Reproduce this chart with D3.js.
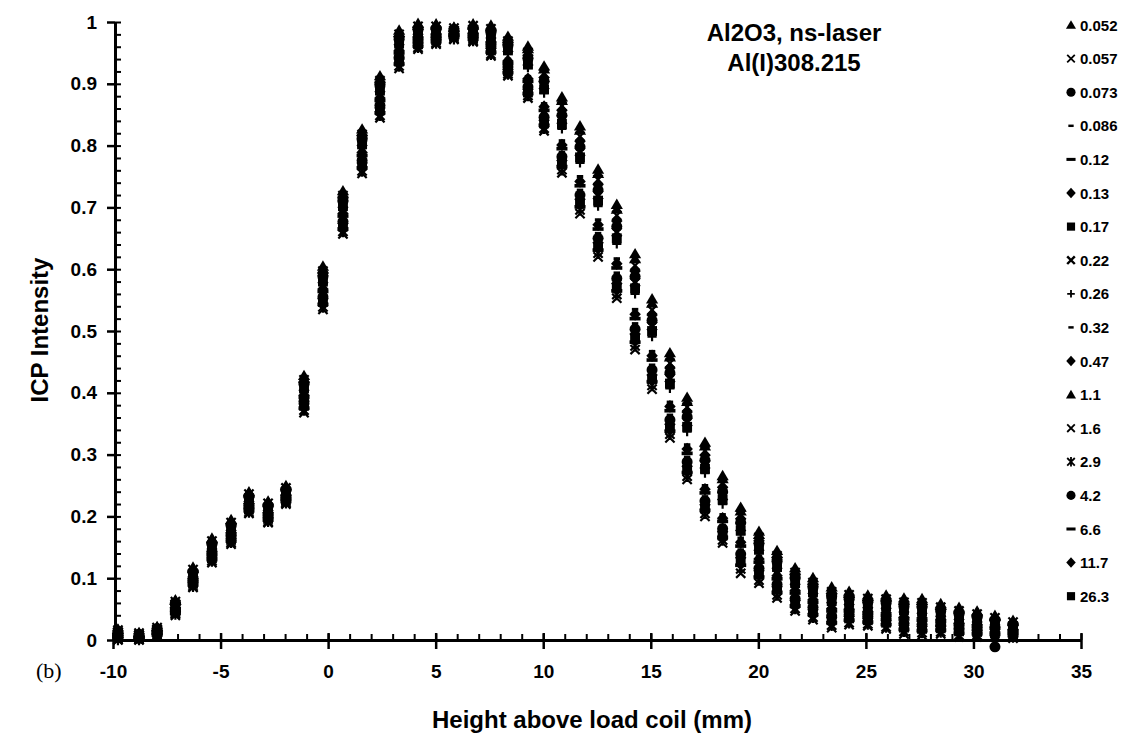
<!DOCTYPE html>
<html>
<head>
<meta charset="utf-8">
<script src="https://cdn.jsdelivr.net/npm/d3@7"></script>
<style>
  body { margin: 0; background: #fff; }
  svg { display: block; }
</style>
</head>
<body>
<svg id="chart" width="1121" height="739"></svg>
<script>
// height above load coil (mm) of each measuring column
const heights = [-9.77,-8.79,-7.95,-7.10,-6.28,-5.40,-4.51,-3.68,-2.79,-1.96,
  -1.12,-0.24,0.69,1.58,2.41,3.30,4.18,5.02,5.85,6.74,
  7.57,8.36,9.29,10.04,10.87,11.71,12.55,13.42,14.27,15.06,
  15.89,16.69,17.52,18.34,19.18,20.03,20.87,21.71,22.54,23.41,
  24.22,25.09,25.94,26.77,27.61,28.48,29.33,30.17,31.00,31.84];

// normalised ICP intensity, one array per legend entry
const i_0_052 = [.018,.012,.022,.065,.118,.165,.195,.240,.225,.250, .428,.605,.727,.827,.913,.987,.998,.997,.992,.997, .995,.977,.961,.929,.879,.832,.762,.705,.625,.552, .465,.393,.320,.266,.215,.176,.145,.117,.101,.086, .079,.073,.073,.068,.067,.059,.053,.047,.040,.032];
const i_0_057 = [.016,.011,.020,.062,.114,.160,.190,.236,.221,.246, .421,.597,.719,.818,.905,.980,.993,.993,.990,.994, .989,.969,.951,.916,.864,.815,.745,.687,.606,.534, .448,.377,.306,.253,.202,.166,.136,.109,.093,.078, .073,.067,.066,.061,.060,.053,.047,.042,.036,.029];
const i_0_073 = [.014,.009,.018,.059,.110,.155,.185,.232,.217,.243, .414,.588,.710,.810,.897,.972,.988,.989,.987,.990, .983,.962,.941,.904,.849,.798,.728,.669,.588,.517, .432,.361,.291,.240,.190,.156,.127,.100,.085,.070, .066,.061,.060,.054,.053,.047,.042,.037,.032,.025];
const i_0_086 = [.010,.006,.014,.053,.102,.146,.176,.224,.209,.236, .400,.572,.694,.793,.881,.958,.978,.981,.983,.983, .971,.940,.912,.868,.808,.750,.680,.617,.535,.467, .385,.316,.250,.203,.165,.136,.109,.084,.069,.055, .054,.050,.047,.041,.039,.036,.030,.027,.024,.018];
const i_0_12  = [.007,.005,.012,.050,.098,.141,.171,.219,.204,.232, .393,.564,.686,.784,.873,.950,.973,.977,.980,.980, .965,.933,.904,.857,.795,.735,.665,.602,.520,.453, .371,.302,.238,.192,.152,.126,.099,.076,.061,.047, .047,.043,.040,.034,.032,.030,.025,.022,.019,.015];
const i_0_13  = [.015,.010,.019,.061,.112,.158,.188,.234,.219,.245, .417,.593,.715,.814,.901,.976,.991,.991,.989,.992, .986,.966,.946,.910,.857,.807,.737,.678,.597,.526, .440,.369,.299,.247,.196,.161,.131,.105,.089,.074, .070,.064,.063,.058,.057,.050,.045,.040,.034,.027];
const i_0_17  = [.012,.008,.016,.056,.106,.151,.181,.228,.213,.240, .407,.580,.702,.802,.889,.965,.983,.985,.985,.987, .977,.954,.931,.891,.835,.781,.711,.650,.569,.500, .415,.345,.277,.227,.177,.146,.118,.092,.077,.063, .060,.055,.054,.048,.046,.042,.036,.032,.028,.022];
const i_0_22  = [.013,.008,.017,.058,.108,.153,.183,.230,.215,.241, .410,.584,.706,.806,.893,.969,.986,.987,.986,.988, .980,.958,.936,.898,.842,.790,.720,.660,.579,.508, .424,.353,.284,.233,.183,.151,.122,.096,.081,.066, .063,.058,.057,.051,.049,.044,.039,.035,.030,.023];
const i_0_26  = [.011,.007,.015,.055,.104,.148,.178,.226,.211,.238, .403,.576,.698,.797,.885,.961,.981,.983,.984,.985, .974,.950,.926,.885,.827,.772,.702,.641,.560,.491, .407,.337,.270,.220,.171,.141,.113,.088,.073,.059, .057,.052,.050,.044,.043,.039,.033,.030,.026,.020];
const i_0_32  = [.006,.004,.011,.049,.096,.139,.169,.217,.202,.230, .389,.560,.682,.780,.869,.947,.971,.976,.979,.978, .962,.930,.900,.852,.789,.728,.658,.594,.512,.445, .364,.296,.232,.186,.146,.121,.095,.072,.057,.043, .044,.041,.037,.030,.029,.027,.022,.020,.017,.013];
const i_0_47  = [.008,.006,.013,.052,.100,.144,.174,.221,.206,.234, .396,.568,.690,.789,.877,.954,.976,.980,.981,.981, .968,.937,.908,.863,.801,.742,.672,.609,.527,.460, .378,.309,.244,.197,.158,.131,.104,.080,.065,.051, .050,.046,.044,.037,.036,.033,.027,.025,.021,.016];
const i_1_1   = [.017,.011,.021,.064,.116,.163,.193,.238,.223,.248, .424,.601,.723,.823,.909,.983,.995,.995,.991,.995, .992,.974,.957,.924,.873,.825,.755,.697,.617,.545, .458,.386,.314,.261,.209,.171,.140,.113,.097,.082, .076,.070,.070,.065,.064,.056,.050,.045,.038,.030];
const i_1_6   = [.000,.000,.006,.040,.085,.125,.155,.205,.190,.220, .368,.535,.657,.755,.845,.925,.956,.964,.972,.968, .945,.913,.877,.824,.756,.690,.620,.553,.470,.406, .327,.260,.200,.157,.108,.092,.068,.047,.033,.020, .025,.023,.018,.010,.008,.010,.005,.005,.005,.003];
const i_2_9   = [.001,.001,.007,.042,.087,.128,.158,.207,.192,.222, .372,.539,.661,.759,.849,.929,.959,.966,.973,.970, .948,.916,.881,.828,.761,.696,.626,.559,.476,.412, .333,.265,.205,.162,.115,.097,.073,.051,.037,.024, .028,.026,.021,.014,.012,.013,.008,.008,.007,.005];
const i_4_2   = [.005,.004,.010,.047,.095,.137,.167,.215,.200,.229, .386,.555,.677,.776,.865,.943,.968,.974,.978,.977, .960,.927,.895,.846,.782,.720,.650,.585,.503,.437, .356,.288,.225,.180,.139,.116,.090,.067,.053,.039, .041,.038,.034,.027,.025,.024,.019,.017,-.011,.012];
const i_6_6   = [.002,.001,.008,.043,.089,.130,.160,.209,.194,.224, .375,.543,.665,.764,.853,.932,.961,.968,.975,.972, .951,.918,.884,.833,.766,.701,.631,.565,.482,.418, .338,.271,.210,.166,.121,.102,.077,.055,.041,.028, .032,.029,.025,.017,.015,.016,.011,.010,.009,.007];
const i_11_7  = [.004,.003,.009,.046,.093,.134,.164,.213,.198,.227, .382,.552,.674,.772,.861,.940,.966,.972,.977,.975, .957,.923,.891,.841,.776,.713,.643,.577,.495,.429, .349,.281,.219,.175,.133,.112,.086,.064,.049,.036, .038,.035,.031,.024,.022,.022,.016,.015,.013,.010];
const i_26_3  = [.003,.002,.009,.044,.091,.132,.162,.211,.196,.225, .379,.547,.669,.768,.857,.936,.964,.970,.976,.973, .954,.920,.886,.836,.770,.706,.636,.570,.487,.422, .342,.275,.213,.169,.127,.107,.082,.059,.045,.032, .035,.032,.028,.020,.018,.019,.014,.013,.011,.008];

const seriesLabels = ["0.052","0.057","0.073","0.086","0.12","0.13","0.17","0.22","0.26",
  "0.32","0.47","1.1","1.6","2.9","4.2","6.6","11.7","26.3"];
const seriesValues = [i_0_052,i_0_057,i_0_073,i_0_086,i_0_12,i_0_13,i_0_17,i_0_22,i_0_26,
  i_0_32,i_0_47,i_1_1,i_1_6,i_2_9,i_4_2,i_6_6,i_11_7,i_26_3];

const xTicks = [-10,-5,0,5,10,15,20,25,30,35];
const yTicks = [0,0.1,0.2,0.3,0.4,0.5,0.6,0.7,0.8,0.9,1];

// marker shape for each legend entry (Excel style markers)
const markers = ["triangle","cross","circle","dash","longdash","diamond","square","xbold","plus",
  "dash","diamond","triangle","cross","star","circle","longdash","diamond","square"];

const FONT = "'Liberation Sans', Arial, sans-serif";

const svg = d3.select("#chart");

const x = d3.scaleLinear().domain([-10, 35]).range([113, 1081]),
      y = d3.scaleLinear().domain([0, 1]).range([640, 22]);

// marker path centred on 0,0; k scales it (legend uses smaller ones)
function markerPath(type, k) {
  const p = d3.path();
  if (type === "triangle") {
    p.moveTo(0, -5 * k); p.lineTo(5.3 * k, 4 * k); p.lineTo(-5.3 * k, 4 * k); p.closePath();
  } else if (type === "circle") {
    p.arc(0, 0, 4.8 * k, 0, 2 * Math.PI);
  } else if (type === "square") {
    p.rect(-4.3 * k, -4.3 * k, 8.6 * k, 8.6 * k);
  } else if (type === "diamond") {
    p.moveTo(0, -5.5 * k); p.lineTo(5 * k, 0); p.lineTo(0, 5.5 * k); p.lineTo(-5 * k, 0); p.closePath();
  } else if (type === "dash") {
    p.rect(-2.8 * k, -1.3 * k, 5.6 * k, 2.6 * k);
  } else if (type === "longdash") {
    p.rect(-4.8 * k, -1.6 * k, 9.6 * k, 3.2 * k);
  } else if (type === "plus") {
    p.moveTo(-4 * k, 0); p.lineTo(4 * k, 0); p.moveTo(0, -4 * k); p.lineTo(0, 4 * k);
  } else if (type === "star") {
    p.moveTo(-4 * k, -4 * k); p.lineTo(4 * k, 4 * k); p.moveTo(4 * k, -4 * k); p.lineTo(-4 * k, 4 * k);
    p.moveTo(0, -5 * k); p.lineTo(0, 5 * k);
  } else {
    p.moveTo(-4 * k, -4 * k); p.lineTo(4 * k, 4 * k); p.moveTo(4 * k, -4 * k); p.lineTo(-4 * k, 4 * k);
  }
  return p.toString();
}
const isStroked = t => t === "cross" || t === "xbold" || t === "plus" || t === "star";
const strokeW = t => t === "xbold" ? 2.6 : 1.9;

function drawMarker(sel, type, k) {
  sel.attr("d", markerPath(type, k))
    .attr("fill", isStroked(type) ? "none" : "black")
    .attr("stroke", isStroked(type) ? "black" : "none")
    .attr("stroke-width", strokeW(type) * k);
}

//minor ticks
svg.append("g")
  .attr("transform", "translate(0,640)")
  .call(d3.axisTop(x).tickValues(d3.range(-10, 36, 1)).tickSize(6).tickFormat(""))
  .call(g => g.select(".domain").remove())
  .selectAll("line").attr("stroke-width", 2);

svg.append("g")
  .attr("transform", "translate(115,0)")
  .call(d3.axisRight(y).tickValues(d3.range(0, 51).map(d => d / 50)).tickSize(6).tickFormat(""))
  .call(g => g.select(".domain").remove())
  .selectAll("line").attr("stroke-width", 2);

// x axis
let xAxis = svg.append("g")
  .attr("class", "x-axis")
  .attr("transform", "translate(0,640)")
  .call(d3.axisBottom(x).tickValues(xTicks).tickSize(9).tickPadding(16).tickSizeOuter(0)
    .tickFormat(d => String(d)));
xAxis.selectAll("line").attr("y1", -7).attr("stroke-width", 2.5);
xAxis.select(".domain").attr("stroke-width", 3);
xAxis.attr("font-family", FONT).attr("font-size", 19).attr("font-weight", "bold");

// y axis
let yAxis = svg.append("g")
  .attr("class", "y-axis")
  .attr("transform", "translate(115,0)")
  .call(d3.axisLeft(y).tickValues(yTicks).tickSize(8).tickPadding(10).tickSizeOuter(0)
    .tickFormat(d => String(d)));
yAxis.selectAll("line").attr("stroke-width", 2.5);
yAxis.select(".domain").attr("stroke-width", 3);
yAxis.attr("font-family", FONT).attr("font-size", 19).attr("font-weight", "bold");

// data points
const plot = svg.append("g").attr("class", "points");
seriesValues.forEach(function(vals, s) {
  plot.append("g")
    .selectAll("path")
    .data(vals)
    .enter()
    .append("path")
    .attr("transform", (d, i) => "translate(" + x(heights[i]) + "," + y(d) + ")")
    .call(drawMarker, markers[s], 1.15);
});

// legend
let legend = svg.append("g").attr("class", "legend");
seriesLabels.forEach(function(lab, s) {
  let ly = 25 + s * 33.6;
  legend.append("path")
    .attr("transform", "translate(1071," + ly + ")")
    .call(drawMarker, markers[s], 0.95);
  legend.append("text")
    .attr("x", 1080)
    .attr("y", ly + 5.5)
    .style("font", "bold 15px " + FONT)
    .text(lab);
});

// chart title
let title = svg.append("g").attr("class", "title")
  .style("font", "bold 24px " + FONT)
  .attr("text-anchor", "middle");
title.append("text").attr("x", 794).attr("y", 41).text("Al2O3, ns-laser");
title.append("text").attr("x", 794).attr("y", 71).text("Al(I)308.215");

// axis titles
svg.append("text")
  .attr("x", 592).attr("y", 728)
  .attr("text-anchor", "middle")
  .style("font", "bold 24px " + FONT)
  .text("Height above load coil (mm)");

svg.append("text")
  .attr("transform", "translate(48,330) rotate(-90)")
  .attr("text-anchor", "middle")
  .style("font", "bold 24px " + FONT)
  .text("ICP Intensity");

svg.append("text")
  .attr("x", 36).attr("y", 678)
  .style("font", "22px 'Liberation Serif', 'Times New Roman', serif")
  .text("(b)");
</script>
</body>
</html>
